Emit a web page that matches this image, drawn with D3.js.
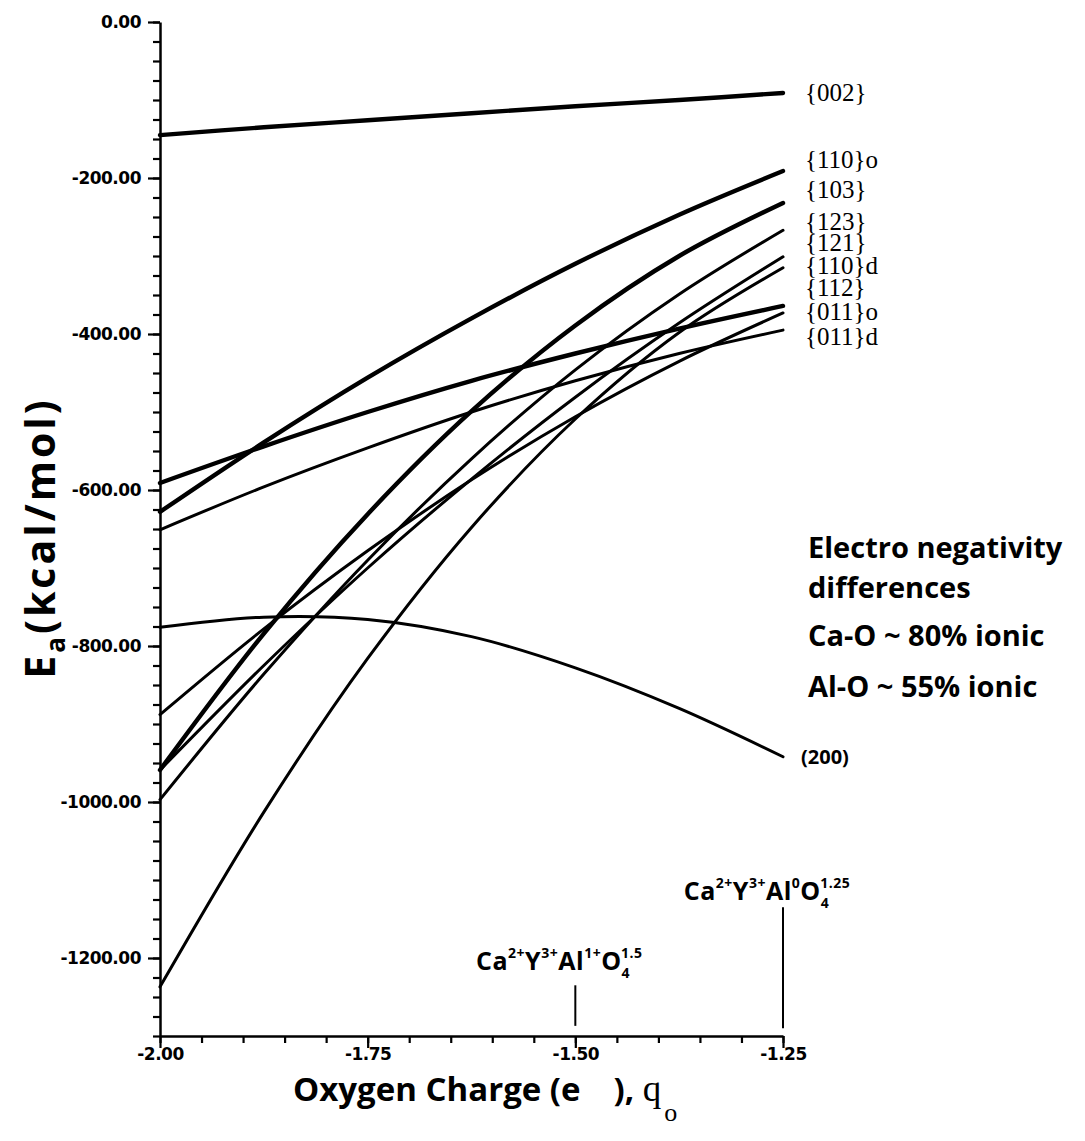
<!DOCTYPE html>
<html>
<head>
<meta charset="utf-8">
<script src="https://cdn.jsdelivr.net/npm/d3@7/dist/d3.min.js"></script>
<style>
  body { margin: 0; background: #fff; }
  svg { display: block; }
</style>
</head>
<body>
<div id="chart"></div>
<script>
// oxygen charge (e), where the energies were read
var charges = [-2.00, -1.875, -1.75, -1.625, -1.50, -1.375, -1.25];

// adsorption energies, kcal/mol
var e002  = [-145, -135, -126, -117, -108, -100, -91];
var e110o = [-628, -539, -456, -380, -310, -247, -191];
var e103  = [-959, -784, -631, -499, -389, -300, -232];
var e123  = [-997, -836, -690, -560, -446, -349, -267];
var e121  = [-959, -825, -700, -586, -481, -386, -301];
var e110d = [-1237, -1013, -816, -648, -509, -398, -315];
var e112  = [-888, -778, -678, -587, -506, -435, -373];
var e011o = [-591, -544, -500, -460, -425, -393, -364];
var e011d = [-651, -596, -546, -500, -460, -425, -395];
var e200  = [-776, -763, -766, -788, -828, -880, -942];

var series = [
  { name: "{002}", values: e002, thick: true },
  { name: "{110}o", values: e110o, thick: true },
  { name: "{103}", values: e103, thick: true },
  { name: "{123}", values: e123, thick: false },
  { name: "{121}", values: e121, thick: false },
  { name: "{110}d", values: e110d, thick: false },
  { name: "{112}", values: e112, thick: false },
  { name: "{011}o", values: e011o, thick: true },
  { name: "{011}d", values: e011d, thick: false },
  { name: "(200)", values: e200, thick: false }
];

// right-hand labels and the energy they sit at
var labelNames  = ["{002}", "{110}o", "{103}", "{123}", "{121}", "{110}d", "{112}", "{011}o", "{011}d"];
var labelValues = [-91, -177, -215, -256, -283, -312, -341, -372, -404];

var xTicks = [-2.00, -1.75, -1.50, -1.25];
var yTicks = [0, -200, -400, -600, -800, -1000, -1200];

// composition markers
var markCharges = [-1.50, -1.25];
var markTop     = [-1235, -1135];
var markBottom  = [-1287, -1290];

var width = 1085, height = 1141;

var svg = d3.select("#chart").append("svg")
  .attr("width", width)
  .attr("height", height)
  .style("background", "#fff");

var x = d3.scaleLinear().domain([-2, -1.25]).range([160, 783]);
var y = d3.scaleLinear().domain([-1300, 0]).range([1036, 22]);

var fmt = function (d) { return d3.format(".2f")(d).replace("\u2212", "-"); };

// y axis, minor ticks every 25
var yMinor = d3.range(0, 53).map(function (i) { return -25 * i; });
svg.append("g")
  .attr("class", "y-minor")
  .attr("transform", "translate(" + x(-2) + ",0)")
  .call(d3.axisLeft(y).tickValues(yMinor).tickSize(7).tickSizeOuter(0).tickFormat(""));

svg.append("g")
  .attr("class", "y-major")
  .attr("transform", "translate(" + x(-2) + ",0)")
  .call(d3.axisLeft(y).tickValues(yTicks).tickSize(12).tickPadding(7).tickFormat(fmt))
  .call(function (g) { g.select(".domain").remove(); });

// x axis, minor ticks every 0.05
var xMinor = d3.range(0, 16).map(function (i) { return -2 + 0.05 * i; });
svg.append("g")
  .attr("class", "x-minor")
  .attr("transform", "translate(0," + y(-1300) + ")")
  .call(d3.axisBottom(x).tickValues(xMinor).tickSize(7).tickSizeOuter(0).tickFormat(""));

svg.append("g")
  .attr("class", "x-major")
  .attr("transform", "translate(0," + y(-1300) + ")")
  .call(d3.axisBottom(x).tickValues(xTicks).tickSize(12).tickPadding(0).tickFormat(fmt))
  .call(function (g) { g.select(".domain").remove(); });

svg.selectAll(".domain").attr("stroke", "#000").attr("stroke-width", 2.5);
svg.selectAll(".tick line").attr("stroke", "#000").attr("stroke-width", 2.2);
svg.selectAll(".tick text")
  .attr("fill", "#000")
  .style("font-family", "'DejaVu Sans', sans-serif")
  .style("font-weight", "bold")
  .style("font-size", "17px")
  .style("letter-spacing", "-0.5px");

// curves
var line = d3.line()
  .x(function (d, i) { return x(charges[i]); })
  .y(function (d) { return y(d); })
  .curve(d3.curveCatmullRom.alpha(0.5));

svg.append("g").selectAll("path")
  .data(series)
  .enter()
  .append("path")
  .attr("d", function (d) { return line(d.values); })
  .attr("fill", "none")
  .attr("stroke", "#000")
  .attr("stroke-width", function (d) { return d.thick ? 4.4 : 3; })
  .attr("stroke-linecap", "round");

// facet labels
svg.append("g").selectAll("text")
  .data(labelNames)
  .enter()
  .append("text")
  .attr("x", x(-1.25) + 22)
  .attr("y", function (d, i) { return y(labelValues[i]); })
  .attr("dy", "0.33em")
  .style("font-family", "'Liberation Serif', 'Times New Roman', serif")
  .style("font-size", "25px")
  .text(function (d) { return d; });

svg.append("text")
  .attr("x", x(-1.25) + 18)
  .attr("y", y(e200[e200.length - 1]))
  .attr("dy", "0.35em")
  .style("font-family", "'Open Sans', sans-serif")
  .style("font-weight", "bold")
  .style("font-size", "20px")
  .text("(200)");

// composition marker lines
svg.append("g").selectAll("line")
  .data(markCharges)
  .enter()
  .append("line")
  .attr("x1", function (d) { return x(d); })
  .attr("x2", function (d) { return x(d); })
  .attr("y1", function (d, i) { return y(markTop[i]); })
  .attr("y2", function (d, i) { return y(markBottom[i]); })
  .attr("stroke", "#000")
  .attr("stroke-width", 2);

function formula(xc, yb, parts) {
  var t = svg.append("text")
    .attr("x", xc)
    .attr("y", yb)
    .attr("text-anchor", "middle")
    .style("font-family", "'Open Sans', sans-serif")
    .style("font-weight", "bold")
    .style("font-size", "25px")
    .style("letter-spacing", "0.5px");
  var shift = 0;
  parts.forEach(function (p) {
    var s = t.append("tspan").text(p[0]);
    var target = p[1] === "sup" ? -12 : (p[1] === "sub" ? 8 : 0);
    s.attr("dy", target - shift);
    if (p[2]) s.attr("dx", p[2]);
    if (p[1]) s.style("font-size", "14px");
    shift = target;
  });
}

formula(x(-1.50) - 16, y(-1216), [["Ca"], ["2+", "sup"], ["Y"], ["3+", "sup"], ["Al"], ["1+", "sup"], ["O"], ["4", "sub"], ["1.5", "sup", -9]]);
formula(x(-1.25) - 16, y(-1126), [["Ca"], ["2+", "sup"], ["Y"], ["3+", "sup"], ["Al"], ["0", "sup"], ["O"], ["4", "sub"], ["1.25", "sup", -9]]);

// note on the right
var note = ["Electro negativity", "differences", "Ca-O ~ 80% ionic", "Al-O ~ 55% ionic"];
var noteY = [558, 598, 646, 697];
svg.append("g").selectAll("text")
  .data(note)
  .enter()
  .append("text")
  .attr("x", 808)
  .attr("y", function (d, i) { return noteY[i]; })
  .style("font-family", "'Open Sans', sans-serif")
  .style("font-weight", "bold")
  .style("font-size", "29px")
  .text(function (d) { return d; });

// axis titles
var xt = svg.append("text")
  .attr("x", 293)
  .attr("y", 1101)
  .style("font-family", "'Open Sans', sans-serif")
  .style("font-weight", "bold")
  .style("font-size", "33px");
xt.append("tspan").text("Oxygen Charge (e\u2003), ");
xt.append("tspan")
  .style("font-family", "'Liberation Serif', serif")
  .style("font-weight", "normal")
  .style("font-size", "37px")
  .text("q");
xt.append("tspan")
  .attr("dy", 20)
  .attr("dx", 3)
  .style("font-family", "'Liberation Serif', serif")
  .style("font-weight", "normal")
  .style("font-size", "26px")
  .text("o");

var yt = svg.append("text")
  .attr("transform", "translate(55,538) rotate(-90)")
  .attr("text-anchor", "middle")
  .style("font-family", "'Open Sans', sans-serif")
  .style("font-weight", "bold")
  .style("font-size", "41px")
  .style("letter-spacing", "3px");
yt.append("tspan").text("E");
yt.append("tspan").attr("dy", 10).style("font-size", "26px").text("a");
yt.append("tspan").attr("dy", -10).text("(kcal/mol)");
</script>
</body>
</html>
